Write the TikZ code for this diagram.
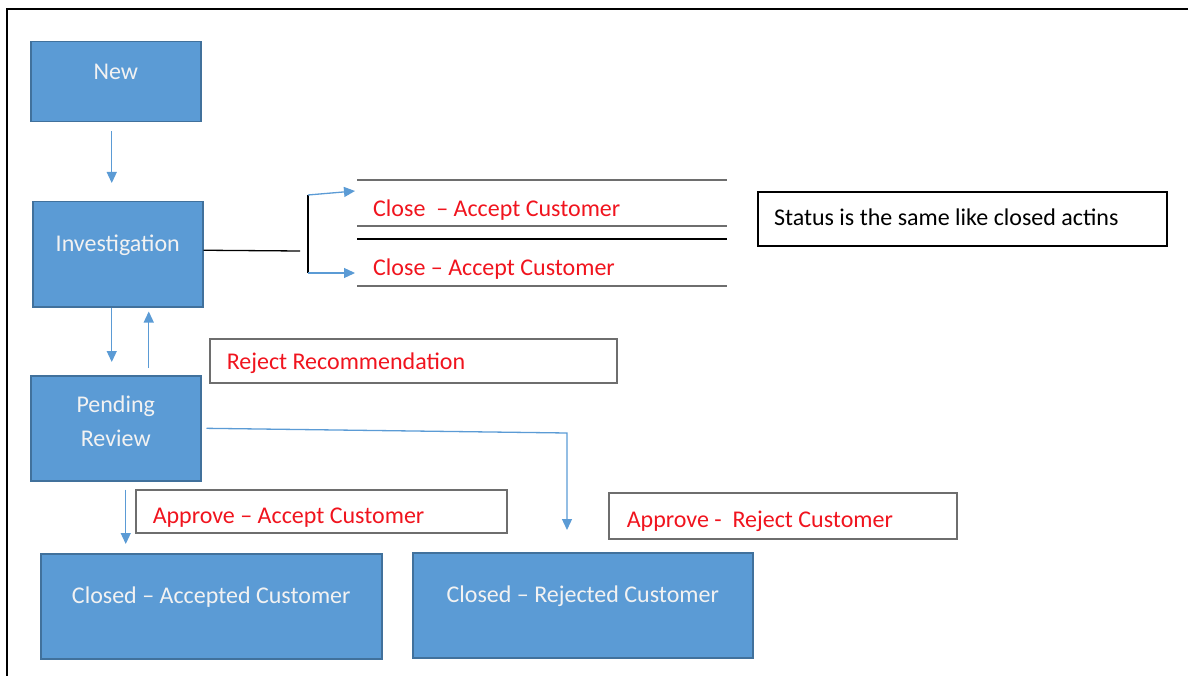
\documentclass[tikz,border=0pt]{standalone}
\usepackage{fontspec}
\setmainfont{Carlito}
\usetikzlibrary{arrows.meta}
\definecolor{boxblue}{HTML}{5B9BD5}
\definecolor{boxedge}{HTML}{41719C}
\definecolor{arrblue}{HTML}{5B9BD5}
\definecolor{redtxt}{HTML}{F0141E}
\definecolor{lblgray}{HTML}{6E6E6E}
\newcommand{\sraise}[2]{\smash{\raisebox{#1}{#2}}}
\begin{document}
\begin{tikzpicture}[x=1pt,y=-1pt,
  every node/.style={font=\fontsize{24}{28}\selectfont},
  stbox/.style={draw=boxedge, fill=boxblue, line width=1.5pt, text=white!95!black, anchor=north west, inner sep=0pt},
  lblbox/.style={draw=lblgray, line width=1.5pt, text=redtxt, anchor=north west, inner ysep=0pt},
  arr/.style={draw=arrblue, line width=1.3pt, -{Triangle[length=11pt,width=10pt]}},
  storeline/.style={draw=lblgray, line width=1.3pt}
]
\useasboundingbox (0,0) rectangle (1188,676);
% frame
\draw[line width=2pt] (1188,9) -- (7,9) -- (7,676);

% state boxes
\node[stbox, minimum width=170pt, minimum height=80pt] (new) at (30,41) {\sraise{2pt}{New}};
\node[stbox, minimum width=170pt, minimum height=105pt] (inv) at (32,201) {\sraise{2.5pt}{Investigation}};
\node[stbox, minimum width=170pt, minimum height=105pt] (pend) at (30,375) {\sraise{-2pt}{\begin{tabular}{@{}c@{}}Pending\\[6pt]Review\end{tabular}}};
\node[stbox, minimum width=341pt, minimum height=105pt] (acc) at (40,553) {\sraise{2.5pt}{Closed -- Accepted Customer}};
\node[stbox, minimum width=340pt, minimum height=105pt] (rej) at (412,552) {\sraise{2.5pt}{Closed -- Rejected Customer}};

% labels in boxes
\node[lblbox, inner xsep=17pt, minimum height=44pt] (rrec) at (209,338) {\makebox[373pt][l]{\sraise{-9pt}{Reject Recommendation}}};
\node[lblbox, inner xsep=17pt, minimum height=43pt] (aacc) at (135,489) {\makebox[337pt][l]{\sraise{-12.5pt}{Approve -- Accept Customer}}};
\node[lblbox, inner xsep=18pt, minimum height=46pt] (arej) at (608,492) {\makebox[312pt][l]{\sraise{-12pt}{Approve -~~Reject Customer}}};
\node[lblbox, draw=black, line width=2pt, text=black, inner xsep=16pt, minimum height=54pt] (status) at (757,191) {\makebox[377pt][l]{\sraise{-7pt}{Status is the same like closed actins}}};

% close-accept store shapes
\draw[storeline] (357,180) -- (727,180);
\draw[storeline] (357,226) -- (727,226);
\draw[line width=1.6pt] (357,239) -- (727,239);
\draw[storeline] (357,286) -- (727,286);
\node[anchor=west, inner sep=0pt, text=redtxt] (close1) at (373,210) {Close~~-- Accept Customer};
\node[anchor=west, inner sep=0pt, text=redtxt] (close2) at (373,269) {Close -- Accept Customer};

% connectors
\draw[arr, shorten <=9pt, shorten >=18pt] ([xshift=-4pt]new.south) -- ([xshift=-6pt]inv.north);
\draw[arr, shorten >=13pt] ([xshift=-6pt]inv.south) -- ([xshift=-4pt]pend.north);
\draw[arr, shorten <=7pt, shorten >=4pt] ([xshift=33pt]pend.north) -- ([xshift=31pt]inv.south);
\draw[arr, shorten <=8pt, shorten >=9pt] ([xshift=10pt]pend.south) -- ([xshift=10pt]pend.south |- acc.north);

\coordinate (forkin) at (300,251);
\coordinate (forktop) at (308,195);
\coordinate (forkbot) at (308,273);
\coordinate (tip1) at (355,191);
\coordinate (tip2) at (355,273);
\draw[line width=1.3pt] ([yshift=4pt]inv.east) -- (forkin);
\draw[line width=1.6pt] (forktop) -- (forkbot);
\draw[arr] (forktop) -- (tip1);
\draw[arr] (forkbot) -- (tip2);

\coordinate (rjtip) at (567,530);
\draw[arr, shorten <=5pt] (pend.east) -- (567,433) -- (rjtip);
\end{tikzpicture}
\end{document}
